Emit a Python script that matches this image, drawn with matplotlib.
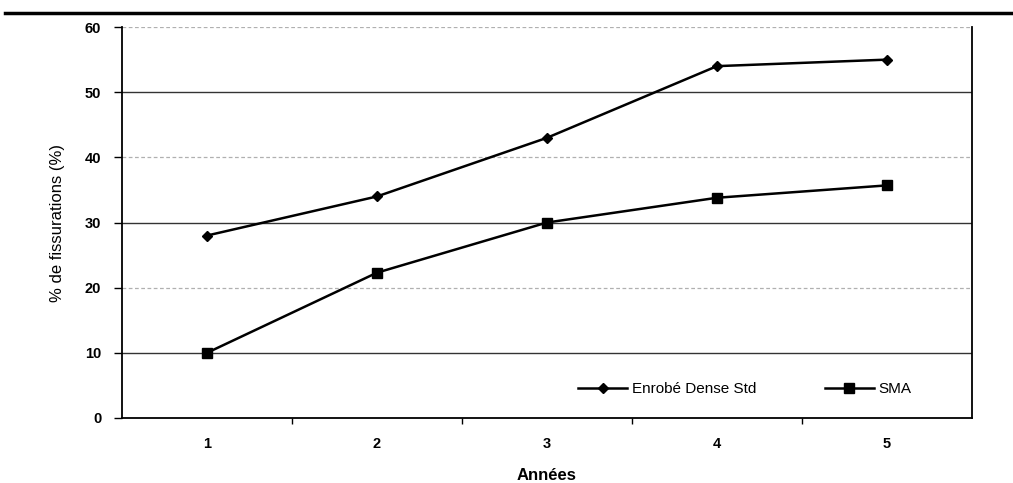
import numpy as np
import matplotlib.pyplot as plt
import matplotlib.lines as mlines

plt.rcParams['font.family'] = ['Liberation Sans', 'DejaVu Sans']

# crack percentages per year for the two mixes
annees = [1, 2, 3, 4, 5]
enrobe_dense = [28, 34, 43, 54, 55]
sma = [10, 22.3, 30, 33.8, 35.7]
yticks = [0, 10, 20, 30, 40, 50, 60]

fig = plt.figure(figsize=(10.13, 4.83), dpi=100)
ax = fig.add_axes([0.1204, 0.1346, 0.8391, 0.8094])

# horizontal gridlines, alternating dark / faint like the printed chart
for y in yticks[1:]:
    if y in (10, 30, 50):
        ax.axhline(y, color='#333333', lw=1.0, zorder=1)
    else:
        ax.axhline(y, color='#b0b0b0', lw=0.9, ls=(0, (3, 2)), zorder=1)

ax.plot(annees, enrobe_dense, color='black', lw=1.8, marker='D', ms=5,
        label='Enrobé Dense Std', zorder=3)
ax.plot(annees, sma, color='black', lw=1.8, marker='s', ms=7,
        label='SMA', zorder=3)

ax.set_xlim(0.5, 5.5)
ax.set_ylim(0, 60)
ax.set_yticks(yticks)
ax.set_xticks(annees)
ax.set_xticks(np.arange(1.5, 5.5, 1), minor=True)
ax.tick_params(axis='x', which='major', length=0, pad=14)
ax.tick_params(axis='x', which='minor', length=4, direction='out', width=1)
ax.tick_params(axis='y', direction='out', length=6, width=1, pad=9)
for lab in ax.get_xticklabels() + ax.get_yticklabels():
    lab.set_fontsize(10.5)
    lab.set_fontweight('bold')

ax.spines['top'].set_visible(False)
for s in ('left', 'right', 'bottom'):
    ax.spines[s].set_linewidth(1.3)

ax.set_ylabel('% de fissurations (%)', fontsize=12, labelpad=14)
ax.set_xlabel('Années', fontsize=12, fontweight='bold', labelpad=12)

ax.legend(loc='lower right', bbox_to_anchor=(0.945, 0.02), ncol=2,
          frameon=False, fontsize=11, columnspacing=4.5, handlelength=3.2,
          handletextpad=0.3)

# heavy rule across the top of the page
fig.add_artist(mlines.Line2D([0.005, 1.0], [0.973, 0.973], color='black', lw=2.5))

fig.savefig('out.png', dpi=100)
